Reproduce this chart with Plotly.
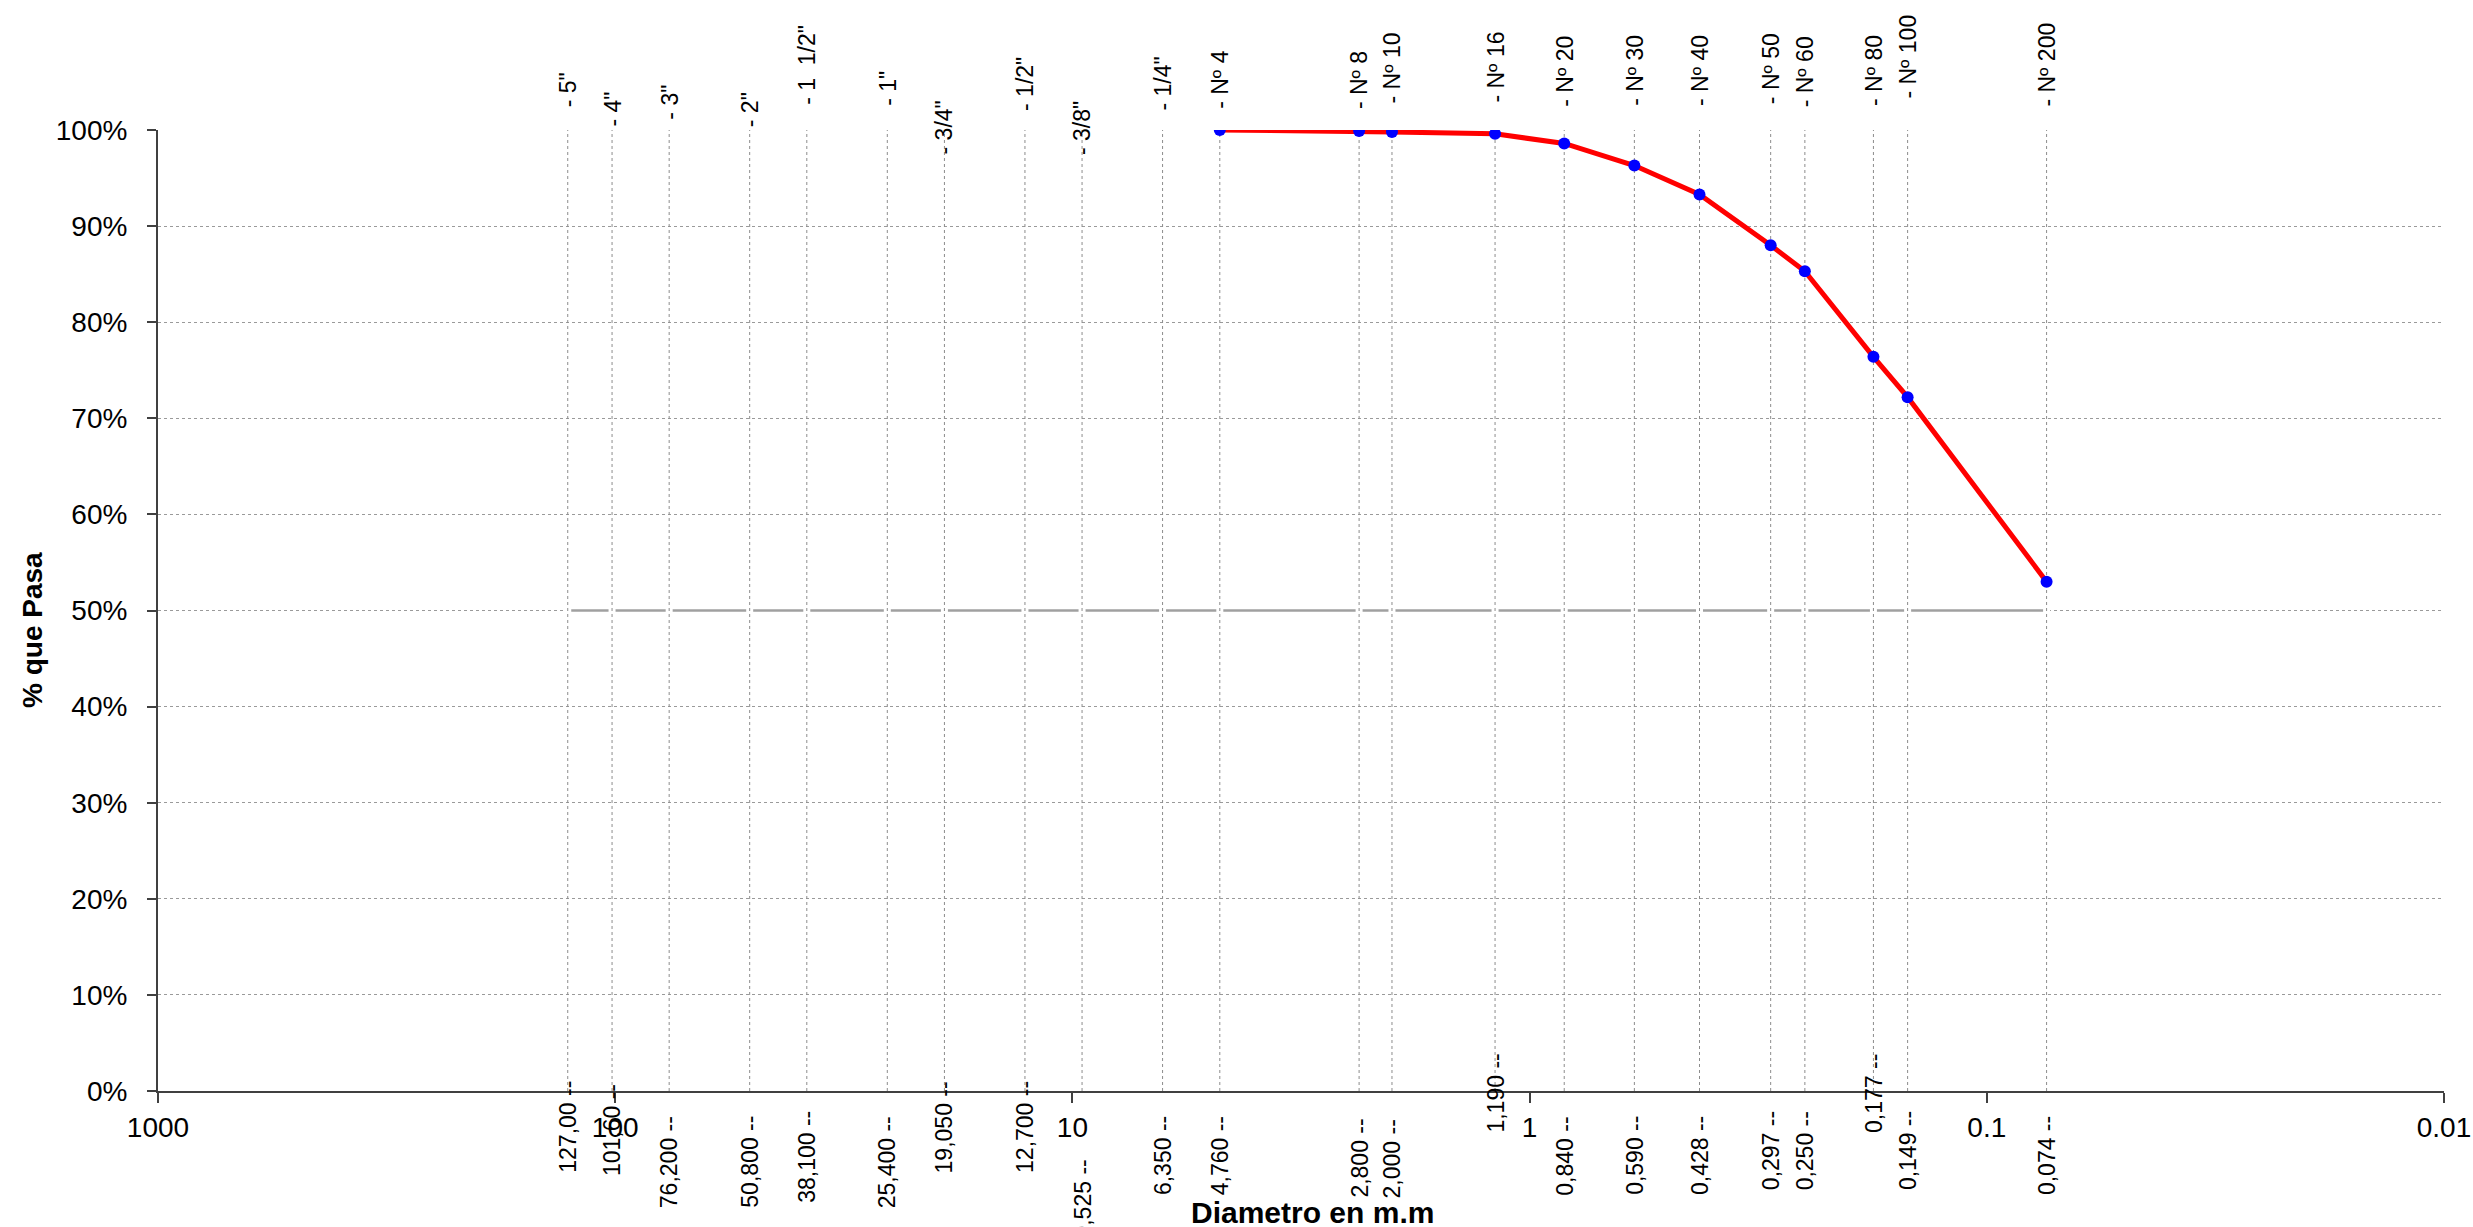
import numpy as np
import plotly.graph_objects as go

# ---------------- data ----------------
sieve_names = ['- 5"', '- 4"', '- 3"', '- 2"', '- 1  1/2"', '- 1"', '- 3/4"', '- 1/2"', '- 3/8"', '- 1/4"',
               '- Nº 4', '- Nº 8', '- Nº 10', '- Nº 16', '- Nº 20', '- Nº 30', '- Nº 40', '- Nº 50',
               '- Nº 60', '- Nº 80', '- Nº 100', '- Nº 200']
sieve_mm = [127.0, 101.6, 76.2, 50.8, 38.1, 25.4, 19.05, 12.7, 9.525, 6.35,
            4.76, 2.36, 2.0, 1.19, 0.84, 0.59, 0.425, 0.297, 0.25, 0.177, 0.149, 0.074]
size_labels = ['127,00 --', '101,60 --', '76,200 --', '50,800 --', '38,100 --', '25,400 --', '19,050 --',
               '12,700 --', '9,525 --', '6,350 --', '4,760 --', '2,800 --', '2,000 --', '1,190 --',
               '0,840 --', '0,590 --', '0,428 --', '0,297 --', '0,250 --', '0,177 --', '0,149 --', '0,074 --']

curve_mm = [4.76, 2.36, 2.0, 1.19, 0.84, 0.59, 0.425, 0.297, 0.25, 0.177, 0.149, 0.074]
pct_passing = [100.0, 99.9, 99.8, 99.6, 98.6, 96.3, 93.3, 88.0, 85.3, 76.4, 72.2, 53.0]

x_tick_vals = [1000, 100, 10, 1, 0.1, 0.01]
x_tick_text = ['1000', '100', '10', '1', '0.1', '0.01']
y_tick_vals = [0, 10, 20, 30, 40, 50, 60, 70, 80, 90, 100]
y_tick_text = ['0%', '10%', '20%', '30%', '40%', '50%', '60%', '70%', '80%', '90%', '100%']
ref_pct = 50

# label placement (pixels, styling only)
top_label_gap = [22, 2, 9, 2, 24, 23, -25, 18, -26, 18, 20, 20, 26, 26, 22, 23, 23, 25, 22, 23, 30, 22]
bottom_label_gap = [-11, -8, 24, 24, 19, 24, -11, -11, 68, 24, 24, 27, 27, -38, 25, 24, 24, 19, 19, -38, 19, 24]

FONT = "Arial, Liberation Sans, sans-serif"

fig = go.Figure()

# 50% reference line (with small white breaks where the sieve lines cross)
fig.add_trace(go.Scatter(x=[sieve_mm[0], sieve_mm[-1]], y=[ref_pct, ref_pct], mode='lines',
                         line=dict(color='#a0a0a0', width=2.5),
                         hoverinfo='skip', showlegend=False))
fig.add_trace(go.Scatter(x=sieve_mm, y=[ref_pct] * len(sieve_mm), mode='markers',
                         marker=dict(symbol='square', color='white', size=7, line=dict(width=0)),
                         hoverinfo='skip', showlegend=False))

# vertical sieve lines
vx, vy = [], []
for d in sieve_mm:
    vx += [d, d, None]
    vy += [0, 100, None]
fig.add_trace(go.Scatter(x=vx, y=vy, mode='lines',
                         line=dict(color='#8c8c8c', width=1, dash='dot'),
                         hoverinfo='skip', showlegend=False))

# grading curve
fig.add_trace(go.Scatter(x=curve_mm, y=pct_passing, mode='lines+markers',
                         line=dict(color='#ff0000', width=5),
                         marker=dict(color='#0000ff', size=12),
                         showlegend=False))

W, H = 2473, 1227
L, T = 158, 130
PW, PH = 2444 - 158, 1091 - 130
R, B = W - L - PW, H - T - PH

annotations = []
for name, d, g in zip(sieve_names, sieve_mm, top_label_gap):
    annotations.append(dict(x=np.log10(d), y=100, xref='x', yref='y', text=name,
                            textangle=-90, showarrow=False, xanchor='center', yanchor='bottom',
                            yshift=g - 1, font=dict(family=FONT, size=23, color='black')))
for lab, d, g in zip(size_labels, sieve_mm, bottom_label_gap):
    annotations.append(dict(x=np.log10(d), y=0, xref='x', yref='y', text=lab,
                            textangle=-90, showarrow=False, xanchor='center', yanchor='top',
                            yshift=-g + 1, font=dict(family=FONT, size=23, color='black')))


def px_to_paper(xp, yp):
    return ((xp - L) / PW, 1 - (yp - T) / PH)


ytx, yty = px_to_paper(32, 630)
annotations.append(dict(x=ytx, y=yty, xref='paper', yref='paper', text='<b>% que Pasa</b>',
                        textangle=-90, showarrow=False, xanchor='center', yanchor='middle',
                        font=dict(family=FONT, size=28, color='black')))
xtx, xty = px_to_paper(1312, 1212)
annotations.append(dict(x=xtx, y=xty, xref='paper', yref='paper', text='<b>Diametro en m.m</b>',
                        showarrow=False, xanchor='center', yanchor='middle',
                        font=dict(family=FONT, size=30, color='black')))

fig.update_layout(
    width=W, height=H,
    margin=dict(l=L, r=R, t=T, b=B, pad=0, autoexpand=False),
    paper_bgcolor='white', plot_bgcolor='white',
    font=dict(family=FONT, size=28, color='black'),
    annotations=annotations,
    xaxis=dict(type='log', range=[3, -2], autorange=False, automargin=False,
               tickvals=x_tick_vals, ticktext=x_tick_text,
               showgrid=False, zeroline=False,
               showline=True, linecolor='#404040', linewidth=2,
               ticks='outside', ticklen=10, tickwidth=2, tickcolor='#404040',
               ticklabeloverflow='allow',
               tickfont=dict(family=FONT, size=28, color='black')),
    yaxis=dict(range=[0, 100], autorange=False, automargin=False,
               tickvals=y_tick_vals, ticktext=y_tick_text,
               showgrid=True, gridcolor='#9a9a9a', gridwidth=1, griddash='dot',
               zeroline=False,
               showline=True, linecolor='#404040', linewidth=2,
               ticks='outside', ticklen=9, tickwidth=2, tickcolor='#404040',
               ticklabelstandoff=14,
               tickfont=dict(family=FONT, size=28, color='black')),
)

fig.write_html("out.html", config={'displayModeBar': False},
               post_script="document.body.style.margin='0';document.body.style.overflow='hidden';")
